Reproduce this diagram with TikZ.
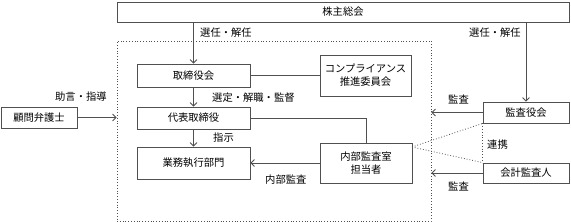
\documentclass[tikz,border=0pt]{standalone}
\usepackage{fontspec}
\setmainfont{Noto Sans CJK JP}
\usetikzlibrary{arrows.meta,calc}
\definecolor{ln}{HTML}{505050}
\begin{document}
\begin{tikzpicture}[x=1pt,y=-1pt,
  box/.style={draw=ln,line width=0.8pt,inner sep=0pt,align=center,font=\fontsize{10.3}{13}\selectfont},
  lbl/.style={inner sep=0pt,anchor=west,font=\fontsize{10.3}{13}\selectfont},
  arr/.style={draw=ln,line width=0.8pt,-{Straight Barb[length=3.5pt,width=7pt,line width=0.8pt]}},
  conn/.style={draw=ln,line width=0.8pt},
  dots/.style={draw=ln,line width=0.8pt,dotted}]
\useasboundingbox (0,0) rectangle (571,222);
\fill[white] (0,0) rectangle (571,222);
\node[draw=ln,line width=0.8pt,dotted,minimum width=314pt,minimum height=180pt,inner sep=0pt] (inner) at (274,131) {};
\node[box,minimum width=452pt,minimum height=20pt] (top) at (343,12) {株主総会};
\node[box,minimum width=113pt,minimum height=23pt] (tori) at (193.5,75.5) {取締役会};
\node[box,minimum width=113pt,minimum height=22pt] (dai) at (193.5,118) {代表取締役};
\node[box,minimum width=113pt,minimum height=32pt] (gyo) at (193.5,163) {業務執行部門};
\node[box,minimum width=76pt,minimum height=21pt] (komon) at (39,117.5) {顧問弁護士};
\node[box,minimum width=91pt,minimum height=41pt] (comp) at (365.5,75.5) {コンプライアンス\\推進委員会};
\node[box,minimum width=92pt,minimum height=40pt] (naibu) at (366,163) {内部監査室\\担当者};
\node[box,minimum width=86pt,minimum height=21pt] (kansa) at (526,112.5) {監査役会};
\node[box,minimum width=86pt,minimum height=20pt] (kaikei) at (526,173) {会計監査人};
\coordinate (nd) at (412,147);
% connectors
\draw[arr] (top.south -| tori.north) -- (tori.north);
\draw[arr] (tori.south) -- (dai.north);
\draw[arr] (dai.south) -- (gyo.north);
\draw[arr] (komon.east) -- (komon.east -| inner.west);
\draw[conn] (tori.east) -- (comp.west);
\draw[conn] (dai.east) -| (naibu.north);
\draw[arr] (naibu.west) -- (gyo.east);
\draw[arr] (top.south -| kansa.north) -- (kansa.north);
\draw[arr] (kansa.west) -- (kansa.west -| inner.east);
\draw[arr] (kaikei.west) -- (kaikei.west -| inner.east);
\draw[dots] (nd) -- (kansa.south west);
\draw[dots] (nd) -- (kaikei.north west);
\draw[dots] (kansa.south west) -- (kaikei.north west);
% labels
\node[lbl] (l1) at (200,32.5) {選任・解任};
\node[lbl] (l2) at (212,98) {選定・解職・監督};
\node[lbl] (l3) at (213,138) {指示};
\node[lbl] (l4) at (55,97) {助言・指導};
\node[lbl] (l5) at (265,180) {内部監査};
\node[lbl] (l6) at (448,99.5) {監査};
\node[lbl] (l7) at (469,32.5) {選任・解任};
\node[lbl] (l8) at (487,145) {連携};
\node[lbl] (l9) at (448,186) {監査};
\end{tikzpicture}
\end{document}
